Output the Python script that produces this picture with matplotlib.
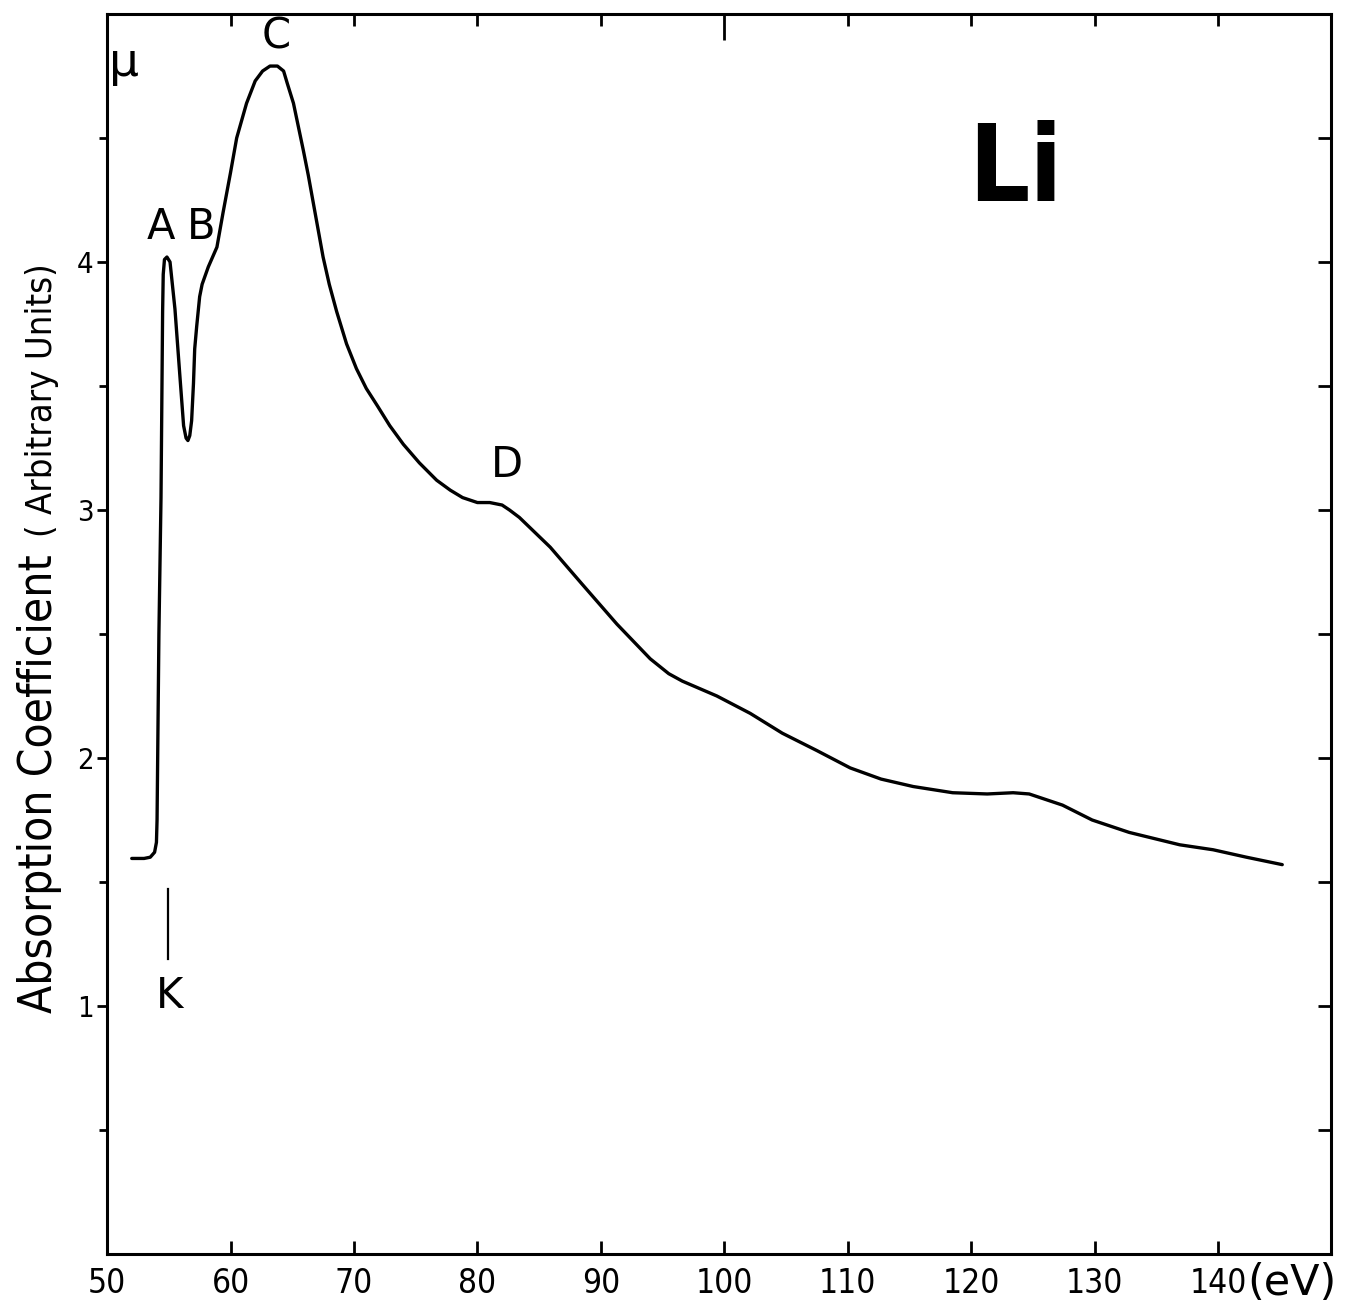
import matplotlib
matplotlib.use('Agg')
import matplotlib.pyplot as plt
from matplotlib.ticker import FixedLocator, NullFormatter

# Li K-edge absorption curve
energy = [52.0, 53.0, 53.5, 53.85, 54.0, 54.05, 54.2, 54.37, 54.5, 54.55, 54.65, 54.85,
          55.1, 55.5, 55.9, 56.2, 56.4, 56.55, 56.7, 56.85, 57.0, 57.1, 57.26, 57.5,
          57.7, 58.2, 58.9, 59.4, 60.0, 60.5, 61.3, 62.0, 62.6, 63.2, 63.8, 64.3,
          64.6, 65.1, 65.9, 66.3, 66.7, 67.1, 67.5, 68.0, 68.6, 69.4, 70.2, 71.0,
          71.9, 72.9, 74.0, 75.3, 76.7, 77.8, 78.8, 80.0,
          81.0, 82.0, 82.6, 83.4, 85.9, 88.5, 91.3, 94.0, 95.5, 96.6, 99.4, 102.1,
          104.7, 107.5, 110.2, 112.7, 115.3, 118.5, 121.3, 123.4, 124.7, 127.4, 129.8,
          132.8, 136.9, 139.6, 142.3, 145.2]
mu = [1.595, 1.595, 1.60, 1.62, 1.66, 1.75, 2.5, 3.05, 3.8, 3.95, 4.01, 4.02,
      4.0, 3.81, 3.54, 3.34, 3.29, 3.28, 3.30, 3.36, 3.51, 3.65, 3.74, 3.86,
      3.91, 3.98, 4.06, 4.20, 4.36, 4.50, 4.64, 4.73, 4.77, 4.79, 4.79, 4.77,
      4.72, 4.64, 4.45, 4.35, 4.24, 4.13, 4.02, 3.91, 3.80, 3.67, 3.57, 3.49,
      3.42, 3.34, 3.265, 3.19, 3.12, 3.08, 3.05, 3.03,
      3.03, 3.02, 3.00, 2.97, 2.85, 2.70, 2.54, 2.40, 2.34, 2.31, 2.25, 2.18,
      2.10, 2.03, 1.96, 1.915, 1.885, 1.86, 1.855, 1.86, 1.855, 1.81, 1.75,
      1.70, 1.65, 1.63, 1.60, 1.57]

x_ticks = [50, 60, 70, 80, 90, 100, 110, 120, 130, 140]
y_major = [1, 2, 3, 4]
y_minor = [0.5, 1.5, 2.5, 3.5, 4.5]
y_right = [0.5, 1, 1.5, 2, 2.5, 3, 3.5, 4, 4.5]

peak_names = ['A', 'B', 'C', 'D']
peak_x = [54.4, 57.65, 63.7, 82.4]
peak_y = [4.14, 4.14, 4.91, 3.18]

k_edge_x = 54.9
k_mark_y = [1.19, 1.47]

fam = ['DejaVu Sans']

fig = plt.figure(figsize=(13.45, 13.06), dpi=100)
ax = fig.add_axes([0.0796, 0.0398, 0.9100, 0.9495])

ax.plot(energy, mu, color='black', lw=2.4, solid_joinstyle='round', solid_capstyle='round')
ax.plot([k_edge_x, k_edge_x], k_mark_y, color='black', lw=1.6)

ax.set_xlim(50, 149.15)
ax.set_ylim(0, 5)
for sp in ax.spines.values():
    sp.set_linewidth(2.2)

ax.set_xticks(x_ticks)
ax.set_xticklabels([str(v) for v in x_ticks], fontsize=24, family=fam, stretch='condensed')
ax.tick_params(axis='x', direction='in', length=9.4, width=2, pad=9)

ax.set_yticks(y_major)
ax.set_yticks(y_minor, minor=True)
ax.set_yticklabels([str(v) for v in y_major], fontsize=21, family=fam, stretch='condensed')
ax.tick_params(axis='y', which='major', direction='out', length=7.5, width=2, pad=2)
ax.tick_params(axis='y', which='minor', direction='out', length=6, width=2)

# top and right ticks point inwards
top = ax.secondary_xaxis('top')
top.xaxis.set_major_locator(FixedLocator([100]))
top.xaxis.set_minor_locator(FixedLocator([v for v in x_ticks[1:] if v != 100]))
top.xaxis.set_major_formatter(NullFormatter())
top.tick_params(which='major', direction='in', length=19, width=2)
top.tick_params(which='minor', direction='in', length=8.6, width=2)

right = ax.secondary_yaxis('right')
right.yaxis.set_major_locator(FixedLocator(y_right))
right.yaxis.set_major_formatter(NullFormatter())
right.tick_params(direction='in', length=9.4, width=2)

for name, px, py in zip(peak_names, peak_x, peak_y):
    ax.text(px, py, name, ha='center', va='center', fontsize=30, family=fam)
ax.text(55.1, 1.04, 'K', ha='center', va='center', fontsize=30, family=fam)
ax.text(51.4, 4.8, 'μ', ha='center', va='center', fontsize=34, family=fam)
ax.text(123.6, 4.245, 'Li', ha='center', va='baseline', fontsize=77,
        fontweight='bold', family=fam, stretch='condensed')

fig.text(1292 / 1345, 1 - 1283 / 1306, '(eV)', ha='center', va='center',
         fontsize=31, family=fam)
fig.text(52 / 1345, 1 - 1013 / 1306, 'Absorption Coefficient', rotation=90,
         rotation_mode='anchor', ha='left', va='baseline', fontsize=33,
         family=fam, stretch='condensed')
fig.text(52 / 1345, 1 - 263 / 1306, '( Arbitrary Units)', rotation=90,
         rotation_mode='anchor', ha='right', va='baseline', fontsize=26,
         family=fam, stretch='condensed')

fig.savefig('out.png', dpi=100)
